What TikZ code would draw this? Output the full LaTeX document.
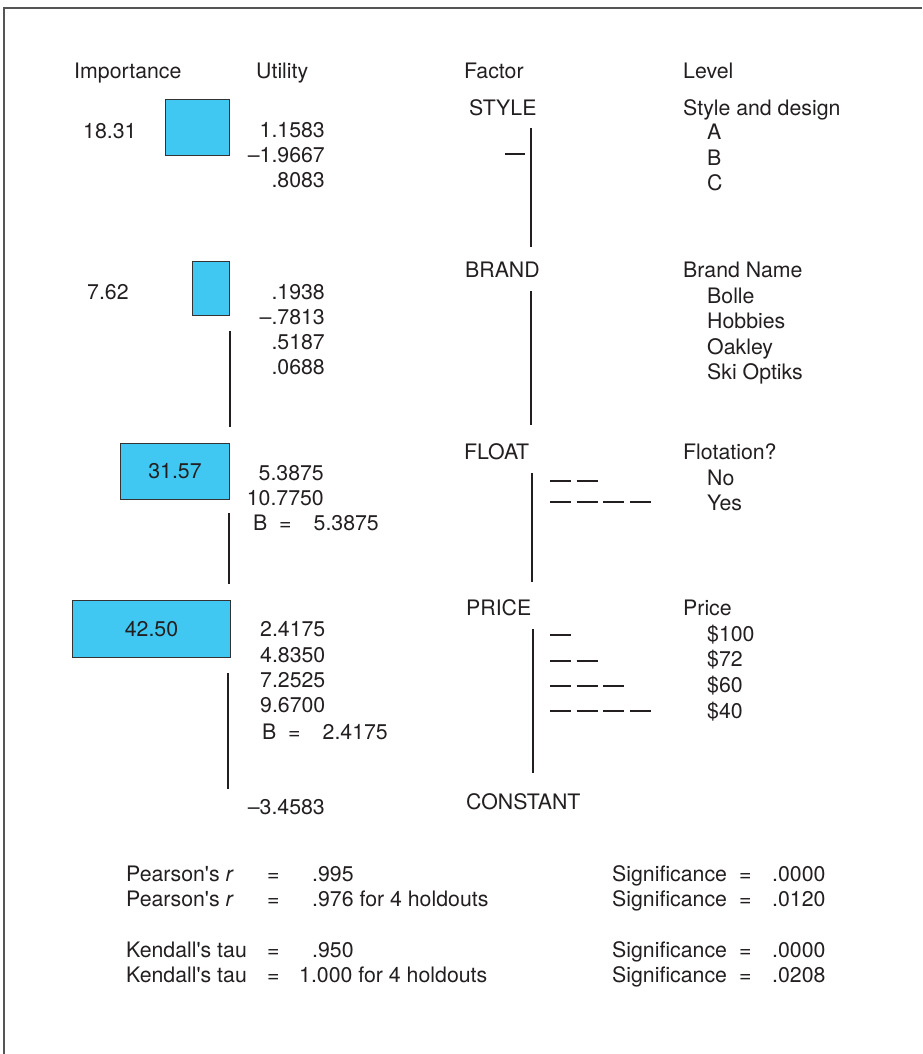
\documentclass[tikz,border=0pt]{standalone}
\usepackage{fontspec}
\setmainfont{TeX Gyre Heros}
\definecolor{ink}{HTML}{231F20}
\definecolor{barfill}{HTML}{41C8F2}
\definecolor{barline}{HTML}{333333}
\definecolor{frameline}{HTML}{555555}
\newcommand{\apos}{\textquotesingle}
\begin{document}
\begin{tikzpicture}[x=1pt,y=-1pt,
  font=\fontsize{21.3}{25}\selectfont, text=ink,
  lt/.style={anchor=base west, inner sep=0pt},
  rt/.style={anchor=base east, inner sep=0pt},
  bar/.style={draw=barline, fill=barfill, line width=1pt, inner sep=0pt, anchor=north west},
  axis/.style={draw=ink, line width=1.2pt},
  tick/.style={draw=ink, line width=1.2pt, dash pattern=on 21pt off 5.67pt}]

\useasboundingbox (0,0) rectangle (922,1054);
\draw[frameline, line width=1.3pt] (4,1054) -- (4,8) -- (922,8);

% column headings
\node[lt] (hImp)  at (74,78.5)  {Importance};
\node[lt] (hUtil) at (256,78.5) {Utility};
\node[lt] (hFac)  at (464,78.5) {Factor};
\node[lt] (hLev)  at (683,78.5) {Level};

% ---------- STYLE ----------
\node[lt] (iStyle) at (83,139) {18.31};
\node[bar, minimum width=64, minimum height=56] (bStyle) at (165,99) {};
\node[rt] (uS1) at (325,137.5) {1.1583};
\node[rt] (uS2) at (325,162.5) {–1.9667};
\node[rt] (uS3) at (325,187.5) {.8083};
\node[lt] (fStyle) at (469,115.5) {STYLE};
\node[lt] (lStyle) at (683,115.5) {Style and design};
\node[lt] (lA) at (707,139.5) {A};
\node[lt] (lB) at (707,165.5) {B};
\node[lt] (lC) at (707,190.5) {C};
\coordinate (sTop) at (531,128);
\coordinate (sBot) at (531,247);
\draw[axis] (sTop) -- (sBot);
\coordinate (sd0) at (505,154);
\coordinate (sd1) at (525,154);
\draw[axis] (sd0) -- (sd1);

% ---------- BRAND ----------
\node[lt] (iBrand) at (87,299) {7.62};
\node[bar, minimum width=37, minimum height=54] (bBrand) at (192,261) {};
\node[rt] (uB1) at (325,299.5) {.1938};
\node[rt] (uB2) at (325,324) {–.7813};
\node[rt] (uB3) at (325,349) {.5187};
\node[rt] (uB4) at (325,374) {.0688};
\node[lt] (fBrand) at (465,277.5) {BRAND};
\node[lt] (lBrand) at (683,277.5) {Brand Name};
\node[lt] (lBolle) at (707,303.5) {Bolle};
\node[lt] (lHob)   at (707,328.5) {Hobbies};
\node[lt] (lOak)   at (707,354.5) {Oakley};
\node[lt] (lSki)   at (707,379.5) {Ski Optiks};
\coordinate (bLtop) at (230,331);
\coordinate (bLbot) at (230,427);
\draw[axis] (bLtop) -- (bLbot);
\coordinate (bTop) at (531,291);
\coordinate (bBot) at (531,425);
\draw[axis] (bTop) -- (bBot);

% ---------- FLOAT ----------
\node[bar, minimum width=109, minimum height=56] (bFloat) at (120,443) {};
\node (iFloat) at (bFloat.center) {31.57};
\node[rt] (uF1) at (324,480.5) {5.3875};
\node[rt] (uF2) at (324,505.5) {10.7750};
\node[lt] (uFB)  at (253,530.5) {B};
\node[lt] (uFeq) at (279,530.5) {=};
\node[rt] (uFv)  at (379,530.5) {5.3875};
\node[lt] (fFloat) at (464,459.5) {FLOAT};
\node[lt] (lFloat) at (683,459.5) {Flotation?};
\node[lt] (lNo)  at (707,485.5) {No};
\node[lt] (lYes) at (707,510.5) {Yes};
\coordinate (fLtop) at (229,513);
\coordinate (fLbot) at (229,584);
\draw[axis] (fLtop) -- (fLbot);
\coordinate (fTop) at (532,473);
\coordinate (fBot) at (532,582);
\draw[axis] (fTop) -- (fBot);
\coordinate (fd1a) at (550,481);
\coordinate (fd1b) at (598,481);
\coordinate (fd2a) at (550,502);
\coordinate (fd2b) at (652,502);
\draw[tick] (fd1a) -- (fd1b);
\draw[tick] (fd2a) -- (fd2b);

% ---------- PRICE ----------
\node[bar, minimum width=158, minimum height=57] (bPrice) at (72,600) {};
\node (iPrice) at (bPrice.center) {42.50};
\node[lt] (uP1) at (260,636.5) {2.4175};
\node[lt] (uP2) at (260,662.5) {4.8350};
\node[lt] (uP3) at (260,687.5) {7.2525};
\node[lt] (uP4) at (260,712.5) {9.6700};
\node[lt] (uPB)  at (262,739.5) {B};
\node[lt] (uPeq) at (288,739.5) {=};
\node[rt] (uPv)  at (388,739.5) {2.4175};
\node[rt] (uC)   at (325,814.5) {–3.4583};
\node[lt] (fPrice) at (466,615.5) {PRICE};
\node[lt] (fConst) at (466,809.5) {CONSTANT};
\node[lt] (lPrice) at (683,615.5) {Price};
\node[lt] (l100) at (707,641.5) {\$100};
\node[lt] (l72)  at (707,666.5) {\$72};
\node[lt] (l60)  at (707,692.5) {\$60};
\node[lt] (l40)  at (707,718.5) {\$40};
\coordinate (pLtop) at (228,673);
\coordinate (pLbot) at (228,789);
\draw[axis] (pLtop) -- (pLbot);
\coordinate (pTop) at (533,629);
\coordinate (pBot) at (533,773);
\draw[axis] (pTop) -- (pBot);
\coordinate (pd1a) at (550,635);  \coordinate (pd1b) at (571,635);
\coordinate (pd2a) at (550,661);  \coordinate (pd2b) at (598,661);
\coordinate (pd3a) at (550,686);  \coordinate (pd3b) at (625,686);
\coordinate (pd4a) at (550,711);  \coordinate (pd4b) at (652,711);
\draw[tick] (pd1a) -- (pd1b);
\draw[tick] (pd2a) -- (pd2b);
\draw[tick] (pd3a) -- (pd3b);
\draw[tick] (pd4a) -- (pd4b);

% ---------- fit statistics ----------
\node[lt] (sP1)  at (126,881.5) {Pearson\apos s \textit{r}};
\node[lt] (sP1e) at (267,881.5) {=};
\node[lt] (sP1v) at (312,881.5) {.995};
\node[lt] (sP2)  at (126,906.5) {Pearson\apos s \textit{r}};
\node[lt] (sP2e) at (267,906.5) {=};
\node[lt] (sP2v) at (312,906.5) {.976 for 4 holdouts};
\node[lt] (sK1)  at (126,957.5) {Kendall\apos s tau};
\node[lt] (sK1e) at (267,957.5) {=};
\node[lt] (sK1v) at (312,957.5) {.950};
\node[lt] (sK2)  at (126,982.5) {Kendall\apos s tau};
\node[lt] (sK2e) at (267,982.5) {=};
\node[lt] (sK2v) at (299,982.5) {1.000 for 4 holdouts};

\node[lt] (g1)  at (612,881.5) {Significance};
\node[lt] (g1e) at (739,881.5) {=};
\node[lt] (g1v) at (772,881.5) {.0000};
\node[lt] (g2)  at (612,906.5) {Significance};
\node[lt] (g2e) at (739,906.5) {=};
\node[lt] (g2v) at (772,906.5) {.0120};
\node[lt] (g3)  at (612,957.5) {Significance};
\node[lt] (g3e) at (739,957.5) {=};
\node[lt] (g3v) at (772,957.5) {.0000};
\node[lt] (g4)  at (612,982.5) {Significance};
\node[lt] (g4e) at (739,982.5) {=};
\node[lt] (g4v) at (772,982.5) {.0208};
\end{tikzpicture}
\end{document}
